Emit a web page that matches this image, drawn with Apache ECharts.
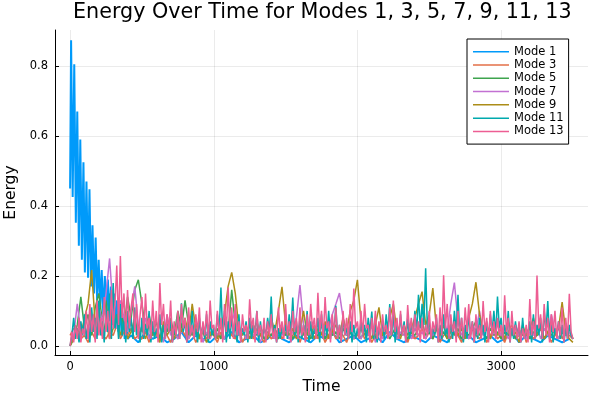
<!DOCTYPE html>
<html>
<head>
<meta charset="utf-8">
<script src="https://cdn.jsdelivr.net/npm/echarts@6/dist/echarts.min.js"></script>
<style>html,body{margin:0;padding:0;background:#fff}#chart{width:600px;height:400px}</style>
</head>
<body>
<div id="chart"></div>
<script>
const seriesNames = ["Mode 1", "Mode 3", "Mode 5", "Mode 7", "Mode 9", "Mode 11", "Mode 13"];
const xTickLabels = [0, 1000, 2000, 3000];
const yTickLabels = ["0.0", "0.2", "0.4", "0.6", "0.8"];

// Mode 1: fast decaying oscillation at the start, then small values
const mode1EarlyTime = [0, 7, 18, 29, 40, 50, 61, 71, 82, 93, 103, 114, 125, 135, 146, 156, 167, 178, 188, 199,
  210, 220, 231, 242, 252, 263, 274, 284, 295, 306, 316, 327, 338, 348, 359, 370, 380, 391, 401];
const mode1EarlyEnergy = [0.45, 0.874, 0.426, 0.805, 0.352, 0.67, 0.286, 0.59, 0.246, 0.525, 0.21, 0.47, 0.195, 0.448, 0.17, 0.345, 0.15, 0.31, 0.13, 0.246,
  0.11, 0.217, 0.09, 0.20, 0.08, 0.19, 0.07, 0.17, 0.06, 0.15, 0.05, 0.13, 0.04, 0.11, 0.03, 0.09, 0.02, 0.07, 0.02];
const mode1TailStart = 425;
const mode1TailStep = 50;
const mode1TailEnergy = [0.03, 0.01, 0.04, 0.02, 0.03, 0.01, 0.02, 0.04, 0.01, 0.03,
  0.02, 0.01, 0.03, 0.02, 0.04, 0.01, 0.02, 0.03, 0.01, 0.02,
  0.04, 0.02, 0.01, 0.03, 0.02, 0.01, 0.03, 0.02, 0.04, 0.01,
  0.02, 0.03, 0.01, 0.02, 0.03, 0.01, 0.04, 0.02, 0.01, 0.03,
  0.02, 0.01, 0.03, 0.02, 0.01, 0.04, 0.02, 0.03, 0.01, 0.02,
  0.03, 0.01, 0.02, 0.04, 0.01, 0.03, 0.02, 0.01, 0.03, 0.02,
  0.01, 0.02];

// Modes 3, 5, 7, 9 sampled every 25 time units, t = 0 .. 3500
const coarseStep = 25;
const mode3Energy = [
  0.03, 0.05, 0.04, 0.02, 0.03, 0.01, 0.04, 0.02, 0.05, 0.03, 0.02, 0.04, 0.03, 0.06, 0.02, 0.04, 0.03, 0.05, 0.02, 0.03,
  0.02, 0.04, 0.01, 0.05, 0.03, 0.02, 0.06, 0.03, 0.01, 0.04, 0.02, 0.05, 0.03, 0.02, 0.04, 0.01, 0.03, 0.05, 0.02, 0.04,
  0.03, 0.01, 0.04, 0.02, 0.05, 0.03, 0.02, 0.06, 0.01, 0.03, 0.04, 0.02, 0.05, 0.03, 0.01, 0.04, 0.02, 0.03, 0.05, 0.02,
  0.04, 0.02, 0.03, 0.05, 0.01, 0.04, 0.02, 0.03, 0.06, 0.02, 0.04, 0.01, 0.03, 0.05, 0.02, 0.04, 0.03, 0.01, 0.04, 0.02,
  0.03, 0.05, 0.02, 0.04, 0.01, 0.03, 0.06, 0.02, 0.04, 0.03, 0.07, 0.02, 0.03, 0.05, 0.01, 0.04, 0.02, 0.03, 0.05, 0.02,
  0.04, 0.02, 0.05, 0.01, 0.03, 0.04, 0.02, 0.06, 0.03, 0.01, 0.04, 0.02, 0.05, 0.03, 0.02, 0.04, 0.01, 0.03, 0.05, 0.02,
  0.03, 0.01, 0.04, 0.06, 0.02, 0.03, 0.05, 0.01, 0.04, 0.02, 0.03, 0.05, 0.02, 0.04, 0.01, 0.03, 0.06, 0.02, 0.04, 0.03,
  0.02];
const mode5Energy = [
  0.00, 0.02, 0.06, 0.14, 0.05, 0.09, 0.03, 0.11, 0.15, 0.07, 0.13, 0.04, 0.10, 0.06, 0.12, 0.05, 0.14, 0.08, 0.16, 0.189,
  0.12, 0.05, 0.09, 0.03, 0.07, 0.02, 0.06, 0.04, 0.08, 0.03, 0.10, 0.05, 0.13, 0.06, 0.03, 0.07, 0.02, 0.05, 0.03, 0.06,
  0.03, 0.05, 0.02, 0.07, 0.04, 0.16, 0.06, 0.03, 0.05, 0.02, 0.04, 0.06, 0.03, 0.05, 0.02, 0.04, 0.03, 0.05, 0.02, 0.04,
  0.03, 0.05, 0.02, 0.04, 0.06, 0.03, 0.05, 0.02, 0.04, 0.03, 0.06, 0.02, 0.05, 0.03, 0.04, 0.02, 0.05, 0.03, 0.04, 0.02,
  0.04, 0.02, 0.05, 0.03, 0.06, 0.02, 0.04, 0.03, 0.05, 0.02, 0.04, 0.06, 0.03, 0.05, 0.02, 0.04, 0.03, 0.05, 0.07, 0.03,
  0.04, 0.02, 0.05, 0.03, 0.04, 0.02, 0.06, 0.03, 0.05, 0.02, 0.04, 0.03, 0.05, 0.07, 0.03, 0.04, 0.02, 0.05, 0.03, 0.04,
  0.02, 0.04, 0.03, 0.05, 0.02, 0.04, 0.03, 0.05, 0.02, 0.04, 0.03, 0.06, 0.02, 0.04, 0.03, 0.05, 0.02, 0.04, 0.03, 0.05,
  0.02];
const mode7Energy = [
  0.00, 0.03, 0.12, 0.04, 0.06, 0.02, 0.09, 0.05, 0.11, 0.07, 0.15, 0.25, 0.10, 0.05, 0.13, 0.08, 0.04, 0.10, 0.17, 0.06,
  0.04, 0.08, 0.02, 0.05, 0.03, 0.06, 0.01, 0.09, 0.03, 0.05, 0.02, 0.04, 0.07, 0.02, 0.05, 0.03, 0.06, 0.01, 0.04, 0.02,
  0.05, 0.03, 0.06, 0.02, 0.04, 0.07, 0.10, 0.03, 0.05, 0.02, 0.06, 0.03, 0.04, 0.01, 0.05, 0.03, 0.07, 0.02, 0.04, 0.03,
  0.05, 0.02, 0.04, 0.08, 0.174, 0.06, 0.03, 0.05, 0.02, 0.04, 0.06, 0.03, 0.05, 0.09, 0.12, 0.151, 0.08, 0.03, 0.05, 0.02,
  0.04, 0.02, 0.05, 0.03, 0.06, 0.01, 0.04, 0.02, 0.05, 0.03, 0.07, 0.02, 0.04, 0.03, 0.06, 0.02, 0.05, 0.03, 0.04, 0.02,
  0.05, 0.03, 0.06, 0.02, 0.08, 0.04, 0.12, 0.181, 0.07, 0.03, 0.05, 0.02, 0.06, 0.04, 0.10, 0.03, 0.05, 0.02, 0.04, 0.06,
  0.03, 0.05, 0.02, 0.04, 0.06, 0.03, 0.05, 0.02, 0.04, 0.03, 0.06, 0.02, 0.05, 0.03, 0.09, 0.04, 0.02, 0.05, 0.03, 0.04,
  0.02];
const mode9Energy = [
  0.00, 0.02, 0.05, 0.03, 0.08, 0.12, 0.217, 0.06, 0.10, 0.03, 0.07, 0.02, 0.05, 0.09, 0.03, 0.06, 0.02, 0.04, 0.08, 0.03,
  0.05, 0.02, 0.06, 0.03, 0.04, 0.01, 0.07, 0.03, 0.05, 0.02, 0.06, 0.04, 0.08, 0.03, 0.12, 0.05, 0.02, 0.04, 0.01, 0.03,
  0.04, 0.02, 0.06, 0.09, 0.17, 0.21, 0.15, 0.05, 0.03, 0.06, 0.02, 0.04, 0.07, 0.03, 0.05, 0.02, 0.08, 0.04, 0.10, 0.169,
  0.06, 0.03, 0.05, 0.02, 0.04, 0.10, 0.03, 0.06, 0.02, 0.05, 0.03, 0.07, 0.02, 0.04, 0.06, 0.03, 0.08, 0.04, 0.10, 0.13,
  0.189, 0.07, 0.03, 0.05, 0.02, 0.06, 0.11, 0.03, 0.05, 0.08, 0.12, 0.04, 0.02, 0.06, 0.03, 0.05, 0.08, 0.12, 0.155, 0.06,
  0.09, 0.165, 0.05, 0.03, 0.06, 0.02, 0.04, 0.07, 0.03, 0.05, 0.02, 0.08, 0.12, 0.182, 0.09, 0.04, 0.06, 0.02, 0.05, 0.03,
  0.05, 0.02, 0.07, 0.03, 0.04, 0.01, 0.06, 0.03, 0.05, 0.08, 0.03, 0.06, 0.02, 0.04, 0.07, 0.03, 0.05, 0.125, 0.04, 0.02,
  0.01];

// Modes 11 and 13 sampled every 12.5 time units, t = 0 .. 3500
const fineStep = 12.5;
const mode11Energy = [
  0.00, 0.03, 0.08, 0.02, 0.05, 0.01, 0.07, 0.03, 0.09, 0.02, 0.06, 0.01, 0.11, 0.04, 0.08, 0.02, 0.13, 0.03, 0.07, 0.01,
  0.10, 0.04, 0.15, 0.02, 0.18, 0.05, 0.09, 0.02, 0.12, 0.03, 0.07, 0.01, 0.10, 0.04, 0.08, 0.02, 0.11, 0.03, 0.06, 0.01,
  0.08, 0.02, 0.06, 0.03, 0.10, 0.01, 0.07, 0.02, 0.05, 0.03, 0.09, 0.01, 0.06, 0.02, 0.08, 0.04, 0.07, 0.01, 0.05, 0.03,
  0.09, 0.02, 0.122, 0.04, 0.07, 0.01, 0.06, 0.03, 0.10, 0.02, 0.05, 0.01, 0.08, 0.03, 0.06, 0.02, 0.09, 0.01, 0.07, 0.03,
  0.05, 0.02, 0.09, 0.04, 0.167, 0.03, 0.10, 0.01, 0.07, 0.02, 0.08, 0.03, 0.06, 0.01, 0.09, 0.02, 0.05, 0.03, 0.07, 0.01,
  0.08, 0.02, 0.06, 0.03, 0.10, 0.01, 0.07, 0.02, 0.05, 0.03, 0.08, 0.04, 0.141, 0.02, 0.06, 0.01, 0.05, 0.02, 0.06, 0.03,
  0.06, 0.02, 0.09, 0.04, 0.138, 0.03, 0.07, 0.01, 0.08, 0.02, 0.06, 0.03, 0.10, 0.01, 0.07, 0.02, 0.05, 0.03, 0.08, 0.01,
  0.09, 0.02, 0.06, 0.03, 0.10, 0.02, 0.07, 0.04, 0.115, 0.02, 0.06, 0.01, 0.08, 0.03, 0.05, 0.02, 0.07, 0.01, 0.06, 0.02,
  0.05, 0.02, 0.07, 0.03, 0.06, 0.01, 0.08, 0.04, 0.098, 0.02, 0.06, 0.01, 0.05, 0.03, 0.07, 0.02, 0.09, 0.04, 0.12, 0.03,
  0.10, 0.01, 0.06, 0.02, 0.09, 0.03, 0.07, 0.01, 0.08, 0.02, 0.06, 0.03, 0.10, 0.04, 0.146, 0.05, 0.12, 0.06, 0.222, 0.04,
  0.07, 0.02, 0.05, 0.03, 0.08, 0.01, 0.06, 0.02, 0.09, 0.03, 0.05, 0.01, 0.07, 0.02, 0.10, 0.04, 0.146, 0.03, 0.08, 0.01,
  0.06, 0.02, 0.09, 0.03, 0.07, 0.01, 0.05, 0.02, 0.08, 0.03, 0.06, 0.01, 0.07, 0.02, 0.09, 0.04, 0.10, 0.03, 0.141, 0.05,
  0.08, 0.02, 0.06, 0.03, 0.10, 0.01, 0.05, 0.02, 0.07, 0.03, 0.06, 0.01, 0.08, 0.02, 0.05, 0.03, 0.07, 0.01, 0.09, 0.02,
  0.06, 0.03, 0.08, 0.01, 0.10, 0.04, 0.128, 0.02, 0.06, 0.01, 0.05, 0.03, 0.07, 0.02, 0.06, 0.01, 0.05, 0.02, 0.06, 0.03,
  0.02];
const mode13Energy = [
  0.00, 0.04, 0.01, 0.06, 0.02, 0.08, 0.01, 0.05, 0.03, 0.10, 0.02, 0.12, 0.04, 0.09, 0.01, 0.13, 0.03, 0.08, 0.02, 0.14,
  0.04, 0.10, 0.02, 0.16, 0.05, 0.12, 0.23, 0.06, 0.257, 0.08, 0.15, 0.03, 0.16, 0.05, 0.11, 0.15, 0.04, 0.12, 0.02, 0.09,
  0.14, 0.03, 0.15, 0.05, 0.08, 0.02, 0.13, 0.04, 0.10, 0.01, 0.18, 0.06, 0.12, 0.02, 0.09, 0.04, 0.13, 0.01, 0.07, 0.03,
  0.10, 0.02, 0.12, 0.05, 0.08, 0.01, 0.11, 0.03, 0.06, 0.02, 0.09, 0.04, 0.11, 0.01, 0.07, 0.03, 0.10, 0.02, 0.13, 0.05,
  0.06, 0.02, 0.10, 0.03, 0.08, 0.01, 0.12, 0.04, 0.167, 0.05, 0.11, 0.02, 0.12, 0.03, 0.07, 0.01, 0.09, 0.04, 0.06, 0.02,
  0.133, 0.05, 0.08, 0.01, 0.10, 0.03, 0.06, 0.02, 0.08, 0.01, 0.07, 0.03, 0.09, 0.02, 0.05, 0.01, 0.11, 0.04, 0.07, 0.02,
  0.12, 0.03, 0.07, 0.01, 0.10, 0.04, 0.08, 0.02, 0.11, 0.03, 0.06, 0.01, 0.09, 0.03, 0.12, 0.05, 0.08, 0.02, 0.152, 0.04,
  0.10, 0.02, 0.14, 0.05, 0.07, 0.01, 0.09, 0.03, 0.11, 0.02, 0.06, 0.01, 0.10, 0.03, 0.08, 0.02, 0.12, 0.04, 0.164, 0.05,
  0.07, 0.02, 0.10, 0.03, 0.12, 0.05, 0.06, 0.01, 0.08, 0.03, 0.10, 0.02, 0.07, 0.01, 0.09, 0.04, 0.06, 0.02, 0.11, 0.03,
  0.13, 0.04, 0.08, 0.02, 0.10, 0.03, 0.06, 0.01, 0.117, 0.04, 0.08, 0.02, 0.09, 0.03, 0.07, 0.01, 0.08, 0.02, 0.06, 0.03,
  0.10, 0.02, 0.07, 0.04, 0.09, 0.01, 0.11, 0.03, 0.202, 0.05, 0.12, 0.02, 0.09, 0.04, 0.07, 0.01, 0.10, 0.03, 0.08, 0.02,
  0.11, 0.04, 0.12, 0.02, 0.07, 0.01, 0.09, 0.03, 0.06, 0.02, 0.128, 0.04, 0.08, 0.01, 0.10, 0.03, 0.07, 0.02, 0.08, 0.03,
  0.06, 0.02, 0.145, 0.04, 0.08, 0.01, 0.10, 0.03, 0.06, 0.02, 0.07, 0.01, 0.05, 0.02, 0.06, 0.01, 0.134, 0.03, 0.07, 0.02,
  0.201, 0.05, 0.09, 0.02, 0.12, 0.03, 0.08, 0.01, 0.09, 0.04, 0.10, 0.02, 0.07, 0.03, 0.11, 0.01, 0.08, 0.02, 0.149, 0.04,
  0.02];

const colors = ["#009AFA", "#E36F47", "#3EA44E", "#C271D2", "#AC8D18", "#00A9AD", "#ED5E93"];
const lineWidths = [2, 1.5, 1.5, 1.5, 1.5, 1.5, 1.5];

function gridPairs(values, step) {
  return values.map((v, i) => [i * step, v]);
}
const mode1Data = mode1EarlyTime.map((t, i) => [t, mode1EarlyEnergy[i]])
  .concat(mode1TailEnergy.map((v, i) => [mode1TailStart + i * mode1TailStep, v]));
const allData = [mode1Data,
  gridPairs(mode3Energy, coarseStep), gridPairs(mode5Energy, coarseStep), gridPairs(mode7Energy, coarseStep),
  gridPairs(mode9Energy, coarseStep), gridPairs(mode11Energy, fineStep), gridPairs(mode13Energy, fineStep)];

const FONT = "DejaVu Sans";
const chart = echarts.init(document.getElementById('chart'), null, {renderer: 'canvas'});
chart.setOption({
  animation: false,
  backgroundColor: '#ffffff',
  color: colors,
  title: {
    text: 'Energy Over Time for Modes 1, 3, 5, 7, 9, 11, 13',
    left: 73, top: 2, padding: 0,
    textStyle: {fontFamily: FONT, fontSize: 20.7, fontWeight: 'normal', color: '#000'}
  },
  legend: {
    data: seriesNames,
    orient: 'vertical',
    left: 467, top: 39,
    padding: [6, 5, 6, 6],
    icon: 'rect',
    itemWidth: 36, itemHeight: 1.5, itemGap: 0,
    backgroundColor: '#fff',
    borderColor: '#000', borderWidth: 1, borderRadius: 0,
    textStyle: {fontFamily: FONT, fontSize: 11.5, lineHeight: 13.3, color: '#000'}
  },
  grid: {left: 55, right: 12, top: 30, bottom: 45, containLabel: false, outerBoundsMode: 'none'},
  xAxis: {
    type: 'value', min: -105, max: 3605, splitNumber: 5,
    name: 'Time', nameLocation: 'middle', nameGap: 24,
    nameTextStyle: {fontFamily: FONT, fontSize: 15.5, color: '#000'},
    axisLine: {onZero: false, lineStyle: {color: '#000', width: 1}},
    axisTick: {inside: true, length: 4, lineStyle: {color: '#000'}},
    axisLabel: {
      fontFamily: FONT, fontSize: 11.5, color: '#000', margin: 6,
      showMinLabel: false, showMaxLabel: false,
      formatter: v => xTickLabels.includes(v) ? String(v) : ''
    },
    splitLine: {show: true, showMinLine: false, showMaxLine: false, lineStyle: {color: 'rgba(0,0,0,0.08)', width: 1}}
  },
  yAxis: {
    type: 'value', min: -0.026, max: 0.903, splitNumber: 5,
    name: 'Energy', nameLocation: 'middle', nameGap: 34,
    nameTextStyle: {fontFamily: FONT, fontSize: 15.5, color: '#000'},
    axisLine: {show: true, onZero: false, lineStyle: {color: '#000', width: 1}},
    axisTick: {show: true, inside: true, length: 4, lineStyle: {color: '#000'}},
    axisLabel: {
      fontFamily: FONT, fontSize: 11.5, color: '#000', margin: 7,
      showMinLabel: false, showMaxLabel: false,
      formatter: v => {
        const s = v.toFixed(1);
        return (Math.abs(v * 5 - Math.round(v * 5)) < 1e-6 && yTickLabels.includes(s)) ? s : '';
      }
    },
    splitLine: {show: true, showMinLine: false, showMaxLine: false, lineStyle: {color: 'rgba(0,0,0,0.08)', width: 1}}
  },
  series: seriesNames.map((name, k) => ({
    name: name,
    type: 'line',
    data: allData[k],
    showSymbol: false,
    symbol: 'none',
    lineStyle: {width: lineWidths[k], color: colors[k]},
    itemStyle: {color: colors[k]},
    emphasis: {disabled: true}
  }))
});
</script>
</body>
</html>
